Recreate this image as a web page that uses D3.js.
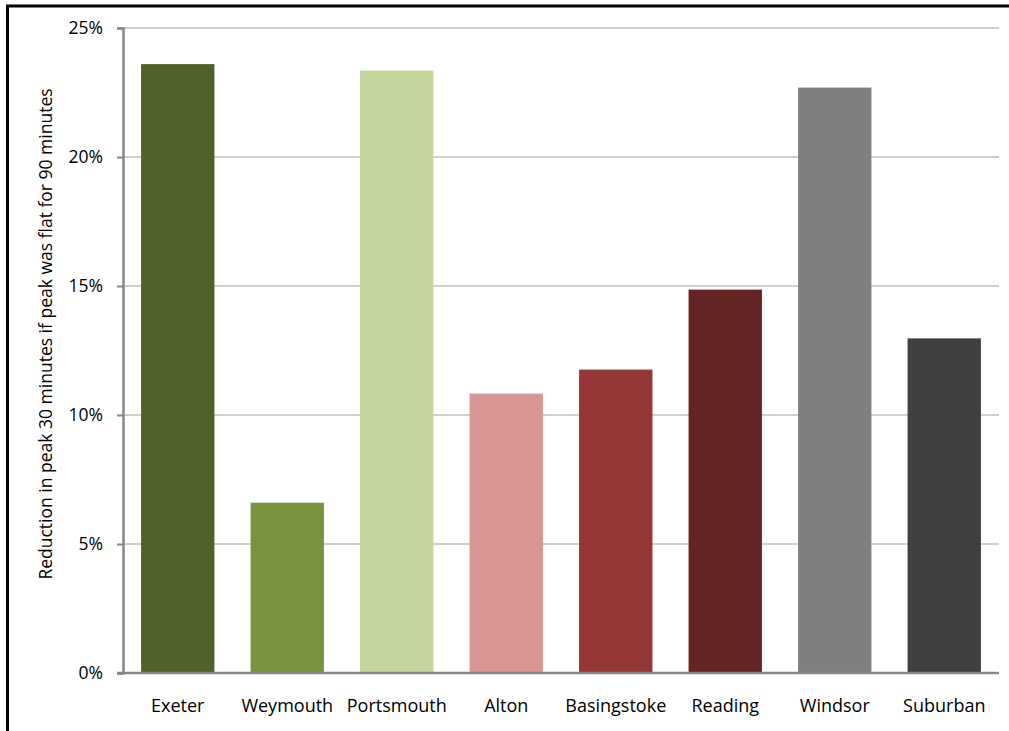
<!DOCTYPE html>
<html>
<head>
<meta charset="utf-8">
<script src="https://cdn.jsdelivr.net/npm/d3@7"></script>
<style>
  html, body { margin: 0; padding: 0; background: #fff; }
  svg { display: block; }
  text { font-family: "Open Sans", "Noto Sans", sans-serif; fill: #000; }
</style>
</head>
<body>
<svg id="chart" width="1009" height="731"></svg>
<script>
// Peak reduction by area
const categories = ["Exeter", "Weymouth", "Portsmouth", "Alton", "Basingstoke", "Reading", "Windsor", "Suburban"];
const values = [0.236, 0.066, 0.2335, 0.1083, 0.1176, 0.1486, 0.2269, 0.1297];
const barColors = ["#4F6228", "#77933C", "#C3D69B", "#D99694", "#953735", "#632423", "#7F7F7F", "#404040"];
const yTicks = [0, 0.05, 0.10, 0.15, 0.20, 0.25];
const yTitle = "Reduction in peak 30 minutes if peak was flat for 90 minutes";

const svg = d3.select("#chart");
const plot = { left: 123, right: 999, top: 28, bottom: 673 };

// outer frame
svg.append("rect")
  .attr("x", 7.5).attr("y", 6)
  .attr("width", 1100).attr("height", 900)
  .attr("fill", "none").attr("stroke", "#000").attr("stroke-width", 3);

const x = d3.scaleBand()
  .domain(categories)
  .range([plot.left, plot.right])
  .paddingInner(0.33)
  .paddingOuter(0.165);

const y = d3.scaleLinear()
  .domain([0, 0.25])
  .range([plot.bottom, plot.top]);

// horizontal gridlines
svg.append("g")
  .selectAll("line")
  .data(yTicks.filter(d => d > 0))
  .join("line")
  .attr("x1", plot.left).attr("x2", plot.right)
  .attr("y1", d => y(d)).attr("y2", d => y(d))
  .attr("stroke", "#a0a0a0").attr("stroke-width", 1.2);

// bars
svg.append("g")
  .selectAll("rect")
  .data(categories)
  .join("rect")
  .attr("x", d => x(d))
  .attr("width", x.bandwidth())
  .attr("y", (d, i) => y(values[i]))
  .attr("height", (d, i) => y(0) - y(values[i]))
  .attr("fill", (d, i) => barColors[i]);

// y axis
const yAxis = svg.append("g")
  .attr("transform", `translate(${plot.left},0)`)
  .call(d3.axisLeft(y).tickValues(yTicks).tickFormat(d3.format(".0%")).tickSize(6).tickPadding(14));
yAxis.select(".domain").attr("stroke", "#878787").attr("stroke-width", 2.5);
yAxis.selectAll(".tick line").attr("stroke", "#878787").attr("stroke-width", 2);
yAxis.selectAll(".tick text")
  .attr("font-size", 17.5)
  .style("font-family", '"Open Sans", sans-serif')
  .attr("fill", "#000");

// x axis
const xAxis = svg.append("g")
  .attr("transform", `translate(0,${plot.bottom})`)
  .call(d3.axisBottom(x).tickSize(0).tickPadding(26));
xAxis.select(".domain")
  .attr("d", `M${plot.left - 6},0H${plot.right}`)
  .attr("stroke", "#878787").attr("stroke-width", 2.5);
xAxis.selectAll(".tick text")
  .attr("font-size", 18)
  .style("font-family", '"Open Sans", sans-serif')
  .attr("fill", "#000");

// y axis title
svg.append("text")
  .attr("transform", `translate(52,334) rotate(-90)`)
  .attr("text-anchor", "middle")
  .attr("font-size", 17.5)
  .text(yTitle);
</script>
</body>
</html>
